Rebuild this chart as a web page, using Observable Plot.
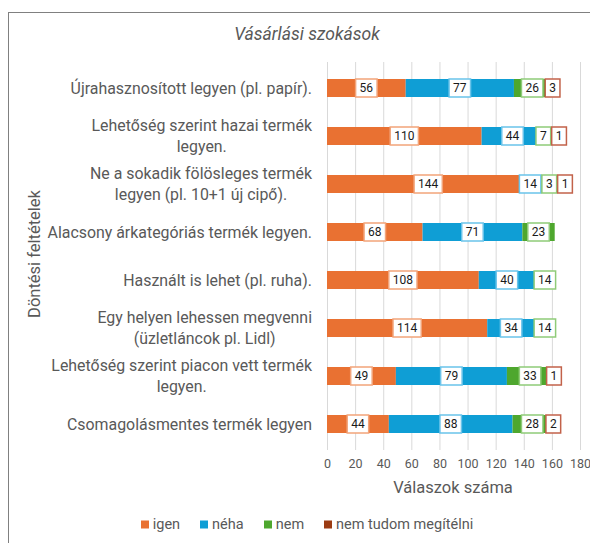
<!DOCTYPE html>
<html><head><meta charset="utf-8">
<script src="https://cdn.jsdelivr.net/npm/d3@7"></script>
<script src="https://cdn.jsdelivr.net/npm/@observablehq/plot@0.6"></script>
<style>
body{margin:0;background:#fff;}
#wrap{position:relative;width:590px;height:543px;overflow:hidden;font-family:Roboto,"Noto Sans",sans-serif;color:#595959;background:#fff;}
#frame{position:absolute;left:8px;top:12px;width:800px;height:700px;border-left:1.5px solid #808080;border-top:1.5px solid #808080;}
#chart{position:absolute;left:0;top:0;}
#title{position:absolute;left:0;width:614px;top:34px;transform:translateY(-50%);text-align:center;font-style:italic;font-size:17.5px;}
#ytitle{position:absolute;left:34px;top:254px;transform:translate(-50%,-50%) rotate(-90deg);white-space:nowrap;font-size:16.5px;}
#xtitle{position:absolute;left:453px;top:487px;transform:translate(-50%,-50%);white-space:nowrap;font-size:16.5px;}
#legend{position:absolute;left:0;width:614px;top:524px;transform:translateY(-50%);display:flex;justify-content:center;gap:20px;font-size:14.5px;}
#legend span.it{display:flex;align-items:center;gap:4px;}
#legend i{display:inline-block;width:8px;height:8px;}
</style></head>
<body><div id="wrap"><div id="frame"></div><div id="chart"></div>
<div id="title">Vásárlási szokások</div>
<div id="ytitle">Döntési feltételek</div>
<div id="xtitle">Válaszok száma</div>
<div id="legend"></div></div>
<script>
const categories = [
  "Újrahasznosított legyen (pl. papír).",
  "Lehetőség szerint hazai termék\nlegyen.",
  "Ne a sokadik fölösleges termék\nlegyen (pl. 10+1 új cipő).",
  "Alacsony árkategóriás termék legyen.",
  "Használt is lehet (pl. ruha).",
  "Egy helyen lehessen megvenni\n(üzletláncok pl. Lidl)",
  "Lehetőség szerint piacon vett termék\nlegyen.",
  "Csomagolásmentes termék legyen"
];
const seriesNames = ["igen", "néha", "nem", "nem tudom megítélni"];
const igen     = [56, 110, 144, 68, 108, 114, 49, 44];
const neha     = [77, 44, 14, 71, 40, 34, 79, 88];
const nem      = [26, 7, 3, 23, 14, 14, 33, 28];
const nemTudom = [3, 1, 1, 0, 0, 0, 1, 2];
const xTicks = [0, 20, 40, 60, 80, 100, 120, 140, 160, 180];

const colors = ["#E97132", "#0F9ED5", "#4EA72E", "#9B3B12"];
const boxStrokes = ["#F2A47A", "#69C3EA", "#8FCB78", "#C2624A"];
const FONT = "Roboto, 'Noto Sans', sans-serif";

const seriesValues = [igen, neha, nem, nemTudom];
const data = categories.flatMap((c, ci) => seriesNames.map((s, si) => ({cat: c, series: s, si, value: seriesValues[si][ci]}))).filter(d => d.value > 0);

const measure = (() => { const ctx = document.createElement("canvas").getContext("2d"); return (t, f) => { ctx.font = f; return ctx.measureText(t).width; }; })();
const bwOf = s => typeof s.bandwidth === "function" ? s.bandwidth() : (s.bandwidth || 0);

const yLabelMark = Plot.text(categories, {
  y: d => d,
  render(index, scales, values, dimensions) {
    const g = d3.create("svg:g");
    const bw = bwOf(scales.y);
    const right = dimensions.marginLeft - 15;
    const f = `15.9px ${FONT}`;
    const lh = 20.5;
    for (const i of index) {
      const lines = categories[i].split("\n");
      const w = d3.max(lines, l => measure(l, f));
      const cx = right - w / 2;
      const cy = values.y[i] + bw / 2;
      lines.forEach((l, k) => {
        g.append("text").attr("x", cx).attr("y", cy + (k - (lines.length - 1) / 2) * lh)
          .attr("text-anchor", "middle").attr("dominant-baseline", "central")
          .attr("fill", "#595959").style("font", f).text(l);
      });
    }
    return g.node();
  }
});

const labelMark = Plot.text(data, Plot.stackX({
  x: "value", y: "cat",
  render(index, scales, values) {
    const g = d3.create("svg:g");
    const bw = bwOf(scales.y);
    const f = `12px ${FONT}`;
    const items = Array.from(index, i => ({d: data[i], x: values.x[i], y: values.y[i] + bw / 2, w: measure(String(data[i].value), f) + 8}));
    const rows = d3.group(items, d => d.d.cat);
    for (const row of rows.values()) {
      row.sort((a, b) => a.x - b.x);
      for (let it = 0; it < 60; it++) {
        for (let k = 1; k < row.length; k++) {
          const a = row[k - 1], b = row[k];
          const ov = (a.x + a.w / 2) - (b.x - b.w / 2) + 1;
          if (ov > 0) { a.x -= ov / 2; b.x += ov / 2; }
        }
      }
    }
    for (const it of items) {
      g.append("rect").attr("x", it.x - it.w / 2).attr("y", it.y - 9).attr("width", it.w).attr("height", 18)
        .attr("fill", "#fff").attr("stroke", boxStrokes[it.d.si]).attr("stroke-width", 1.5);
      g.append("text").attr("x", it.x).attr("y", it.y).attr("text-anchor", "middle").attr("dominant-baseline", "central")
        .attr("fill", "#1a1a1a").style("font", f).text(it.d.value);
    }
    return g.node();
  }
}));

const chart = Plot.plot({
  width: 590, height: 543,
  marginLeft: 327, marginRight: 10, marginTop: 62, marginBottom: 93,
  style: {fontFamily: FONT, background: "transparent"},
  x: {domain: [0, 180], ticks: xTicks, label: null},
  y: {domain: categories, paddingInner: 0.62, paddingOuter: 0.31, label: null, axis: null},
  color: {domain: seriesNames, range: colors},
  marks: [
    Plot.ruleX(xTicks, {stroke: "#d9d9d9", strokeWidth: 1}),
    Plot.barX(data, Plot.stackX({x: "value", y: "cat", fill: "series"})),
    Plot.axisX({ticks: xTicks, tickSize: 0, tickPadding: 9, fontSize: 12.5, fill: "#595959", label: null}),
    yLabelMark,
    labelMark
  ]
});
document.getElementById("chart").appendChild(chart);

const legend = d3.select("#legend");
seriesNames.forEach((s, i) => {
  const it = legend.append("span").attr("class", "it");
  it.append("i").style("background", colors[i]);
  it.append("span").text(s);
});
</script>
</body></html>
